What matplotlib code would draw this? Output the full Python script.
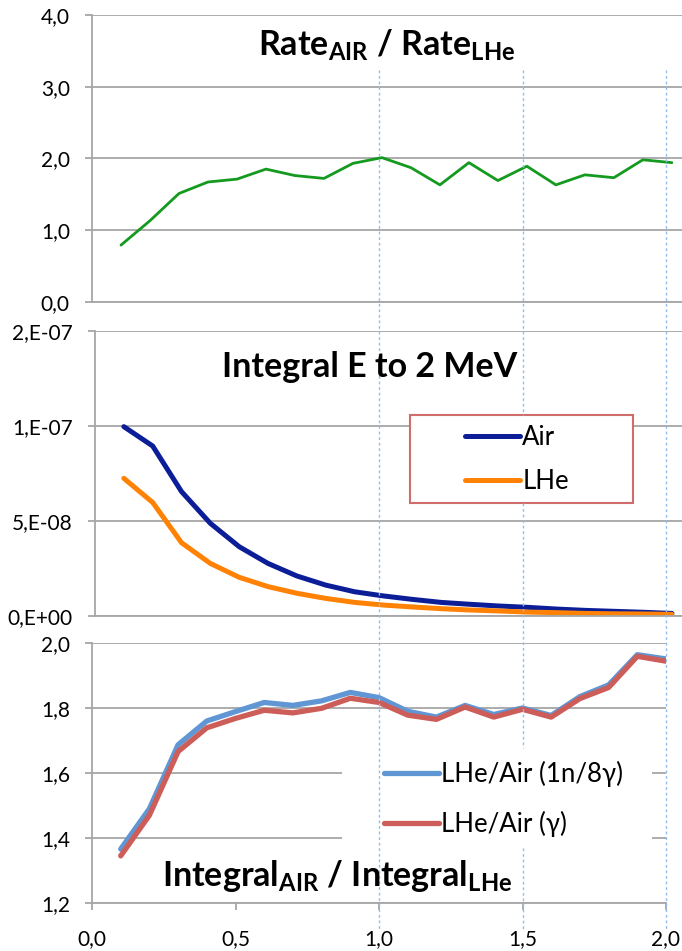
import matplotlib
matplotlib.use('Agg')
import matplotlib.pyplot as plt
from matplotlib.lines import Line2D
from matplotlib.patches import Rectangle
from matplotlib.transforms import blended_transform_factory

plt.rcParams['font.family'] = ['Lato', 'DejaVu Sans']
plt.rcParams['mathtext.fontset'] = 'custom'
plt.rcParams['mathtext.rm'] = 'Lato'
plt.rcParams['mathtext.bf'] = 'Lato:bold'

# energy bins (MeV)
energy = [0.1, 0.2, 0.3, 0.4, 0.5, 0.6, 0.7, 0.8, 0.9, 1.0,
          1.1, 1.2, 1.3, 1.4, 1.5, 1.6, 1.7, 1.8, 1.9, 2.0]

# rate ratio air / LHe
rate_ratio = [0.79, 1.13, 1.51, 1.67, 1.71, 1.85, 1.76, 1.72, 1.93, 2.01,
              1.87, 1.63, 1.94, 1.69, 1.89, 1.63, 1.77, 1.73, 1.98, 1.94]

# integral from E up to 2 MeV
int_air = [9.95e-8, 8.93e-8, 6.53e-8, 4.86e-8, 3.63e-8, 2.75e-8, 2.09e-8, 1.61e-8, 1.26e-8, 1.04e-8,
           8.6e-9, 7.0e-9, 6.0e-9, 5.1e-9, 4.4e-9, 3.5e-9, 2.8e-9, 2.3e-9, 1.8e-9, 1.2e-9]
int_lhe = [7.23e-8, 5.96e-8, 3.84e-8, 2.75e-8, 2.02e-8, 1.53e-8, 1.18e-8, 9.1e-9, 7.0e-9, 5.6e-9,
           4.6e-9, 3.7e-9, 3.0e-9, 2.5e-9, 1.9e-9, 1.6e-9, 1.2e-9, 1.0e-9, 0.9e-9, 0.7e-9]

# integral ratios
ratio_1n8g = [1.366, 1.49, 1.687, 1.76, 1.789, 1.817, 1.808, 1.822, 1.848, 1.832,
              1.79, 1.772, 1.808, 1.78, 1.80, 1.777, 1.835, 1.871, 1.964, 1.951]
ratio_g = [1.345, 1.47, 1.666, 1.739, 1.768, 1.793, 1.785, 1.799, 1.83, 1.817,
           1.778, 1.765, 1.803, 1.772, 1.796, 1.772, 1.829, 1.863, 1.959, 1.944]

top_ticks = [0, 1, 2, 3, 4]
top_labels = ['0,0', '1,0', '2,0', '3,0', '4,0']
mid_ticks = [0, 5e-8, 1e-7, 1.5e-7]
mid_labels = ['0,E+00', '5,E-08', '1,E-07', '2,E-07']
bot_ticks = [1.2, 1.4, 1.6, 1.8, 2.0]
bot_labels = ['1,2', '1,4', '1,6', '1,8', '2,0']
x_ticks = [0, 0.5, 1.0, 1.5, 2.0]
x_labels = ['0,0', '0,5', '1,0', '1,5', '2,0']
marker_lines = [1.0, 1.5, 2.0]

W, H = 682, 951
GRID = '#a6a6a6'
TICK_FS = 15
TITLE_FS = 24.5
LEG_FS = 18.5


def box(l, t, r, b):
    return [l / W, 1 - b / H, (r - l) / W, (b - t) / H]


def fy(y):
    return 1 - y / H


def style(ax, yticks, ylabels):
    ax.set_yticks(yticks)
    ax.set_yticklabels(ylabels)
    ax.set_axisbelow(True)
    ax.grid(axis='y', color=GRID, lw=1.3)
    ax.grid(axis='x', visible=False)
    for s in ['top', 'right']:
        ax.spines[s].set_visible(False)
    for s in ['left', 'bottom']:
        ax.spines[s].set_color(GRID)
        ax.spines[s].set_linewidth(1.3)
    ax.tick_params(axis='y', length=5, width=1.3, color=GRID, pad=11,
                   labelsize=TICK_FS)
    ax.set_facecolor('none')


fig = plt.figure(figsize=(W / 100, H / 100), dpi=100)

line_kw = dict(solid_capstyle='round', solid_joinstyle='round')

# --- rate ratio ---
ax1 = fig.add_axes(box(92, 15, 682, 301.7))
ax1.plot(energy, rate_ratio, color='#149a1f', lw=2.0, **line_kw)
ax1.set_xlim(0, 2.035)
ax1.set_ylim(0, 4)
style(ax1, top_ticks, top_labels)
ax1.tick_params(axis='x', bottom=False, labelbottom=False)

# --- integrals ---
ax2 = fig.add_axes(box(95, 330.7, 682, 615.7))
ax2.plot(energy, int_air, color='#0b1e98', lw=3.6, label='Air', **line_kw)
ax2.plot(energy, int_lhe, color='#ff8205', lw=3.6, label='LHe', **line_kw)
ax2.set_xlim(0, 2.035)
ax2.set_ylim(0, 1.5e-7)
style(ax2, mid_ticks, mid_labels)
ax2.tick_params(axis='x', bottom=False, labelbottom=False)
ax2.add_patch(Rectangle((410 / W, fy(503)), 223 / W, 88 / H, transform=fig.transFigure,
                        fc='white', ec='#d06c6c', lw=1.5, zorder=1.5, clip_on=False))
ax2.legend(loc='center left', bbox_to_anchor=(465 / W, fy(459.5)), bbox_transform=fig.transFigure,
           frameon=False, borderpad=0, borderaxespad=0, handlelength=2.15,
           handletextpad=0.08, labelspacing=0.75, fontsize=LEG_FS)

# --- integral ratios ---
ax3 = fig.add_axes(box(92, 643, 666, 903))
ax3.plot(energy, ratio_1n8g, color='#5f96d3', lw=3.8, label='LHe/Air (1n/8γ)', **line_kw)
ax3.plot(energy, ratio_g, color='#cd5d58', lw=3.8, label='LHe/Air (γ)', **line_kw)
ax3.set_xlim(0, 2.0)
ax3.set_ylim(1.2, 2.0)
style(ax3, bot_ticks, bot_labels)
ax3.set_xticks(x_ticks)
ax3.set_xticklabels(x_labels)
ax3.tick_params(axis='x', length=5, width=1.3, color=GRID, pad=14, labelsize=TICK_FS)
ax3.add_patch(Rectangle((342 / W, fy(849)), 310 / W, 102 / H, transform=fig.transFigure,
                        fc='white', ec='none', zorder=1.5, clip_on=False))
ax3.legend(loc='center left', bbox_to_anchor=(384 / W, fy(799)), bbox_transform=fig.transFigure,
           frameon=False, borderpad=0, borderaxespad=0, handlelength=2.15,
           handletextpad=0.08, labelspacing=0.95, fontsize=LEG_FS)

# titles
fig.text(387 / W, fy(55), r'Rate$_{\mathbf{AIR}}$ / Rate$_{\mathbf{LHe}}$',
         ha='center', va='baseline', fontsize=TITLE_FS, fontweight='bold')
fig.text(370 / W, fy(377), 'Integral E to 2 MeV',
         ha='center', va='baseline', fontsize=TITLE_FS, fontweight='bold')
fig.text(337 / W, fy(886), r'Integral$_{\mathbf{AIR}}$ / Integral$_{\mathbf{LHe}}$',
         ha='center', va='baseline', fontsize=TITLE_FS, fontweight='bold')

# dotted energy markers across all panels
trans = blended_transform_factory(ax3.transData, fig.transFigure)
segments = {
    1.0: [(70, 930)],
    1.5: [(70, 415), (503, 748), (848, 930)],
    2.0: [(70, 930)],
}
for xv in marker_lines:
    for y0, y1 in segments[xv]:
        fig.add_artist(Line2D([xv, xv], [fy(y0), fy(y1)], transform=trans,
                              color='#93bde8', lw=1.0, ls=(0, (2, 2)), zorder=3))

fig.savefig('out.png', dpi=100)
